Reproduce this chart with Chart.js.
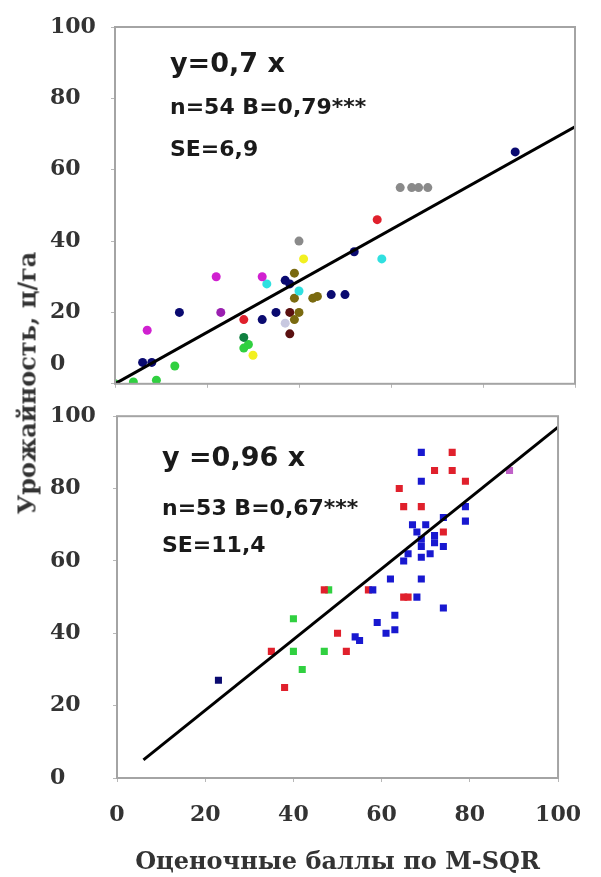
<!DOCTYPE html>
<html>
<head>
<meta charset="utf-8">
<script src="https://cdn.jsdelivr.net/npm/chart.js@4.4.1/dist/chart.umd.min.js"></script>
<style>
body{margin:0;background:#fff;width:601px;height:877px;overflow:hidden;position:relative;}
canvas{position:absolute;left:0;}
#ytitle{position:absolute;left:27px;top:383px;transform:translate(-50%,-50%) rotate(-90deg);
	font:bold 24px "DejaVu Serif";color:#333;white-space:nowrap;}
</style>
</head>
<body>
<canvas id="top_chart" width="601" height="400" style="top:0"></canvas>
<canvas id="bottom_chart" width="601" height="477" style="top:400px"></canvas>
<div id="ytitle">Урожайность, ц/га</div>
<script>
// upper panel
const topX = [40, 62, 64.5, 66, 68, 41, 30, 22, 32, 7, 23, 33, 40, 58,
	37, 47, 50, 14, 32, 35, 6, 8, 52, 87, 38,
	39, 39, 43, 44, 40, 39, 28, 57, 38, 38, 28,
	28, 13, 9, 4, 0, 29, 37];
const topY = [40, 55, 55, 55, 55, 35, 8, 30, 30, 15, 20, 28, 26, 35,
	29, 25, 25, 20, 18, 20, 6, 6, 37, 65, 28,
	31, 24, 24, 24.5, 20, 18, 18, 46, 20, 14, 13,
	10, 5, 1, 0.5, 0, 11, 17];
const topGroup = ['grey', 'grey', 'grey', 'grey', 'grey', 'yellow', 'yellow', 'magenta', 'magenta', 'magenta', 'purple', 'cyan', 'cyan', 'cyan',
	'navy', 'navy', 'navy', 'navy', 'navy', 'navy', 'navy', 'navy', 'navy', 'navy', 'navy',
	'olive', 'olive', 'olive', 'olive', 'olive', 'olive', 'red', 'red', 'brown', 'brown', 'darkgreen',
	'green', 'green', 'green', 'green', 'green', 'green', 'lavender'];
const topLineX = [0, 100];
const topLineY = [0, 72];

// lower panel
const botX = [69, 69, 79, 79, 74, 67, 70, 68, 72, 72, 69, 69, 74, 66, 71, 69, 65, 62, 69, 58, 68, 74, 63, 59, 63, 61, 54, 55,
	76, 72, 76, 79, 64, 65, 69, 74, 57, 47, 65, 66, 50, 52, 35, 38,
	48, 40, 40, 47, 42,
	89, 23];
const botY = [90, 82, 75, 71, 72, 70, 70, 68, 67, 65, 66, 64, 64, 62, 62, 61, 60, 55, 55, 52, 50, 47, 45, 43, 41, 40, 39, 38,
	90, 85, 85, 82, 80, 75, 75, 68, 52, 52, 50, 50, 40, 35, 35, 25,
	52, 44, 35, 35, 30,
	85, 27];
const botGroup = ['blue', 'blue', 'blue', 'blue', 'blue', 'blue', 'blue', 'blue', 'blue', 'blue', 'blue', 'blue', 'blue', 'blue', 'blue', 'blue', 'blue', 'blue', 'blue', 'blue', 'blue', 'blue', 'blue', 'blue', 'blue', 'blue', 'blue', 'blue',
	'red', 'red', 'red', 'red', 'red', 'red', 'red', 'red', 'red', 'red', 'red', 'red', 'red', 'red', 'red', 'red',
	'green', 'green', 'green', 'green', 'green',
	'magenta', 'navy'];
const botLineX = [6, 100];
const botLineY = [5, 97];

const xTicks = [0, 20, 40, 60, 80, 100];
const yTicks = [0, 20, 40, 60, 80, 100];

const colors = {
	grey: '#8a8a8a', yellow: '#f2f020', magenta: '#d020d0', purple: '#9a20b0', cyan: '#30e0e0',
	navy: '#0a0a70', olive: '#7a6a10', red: '#e0202c', brown: '#5a1010', darkgreen: '#108040',
	green: '#30d040', lavender: '#c8c8e0', blue: '#1818d0'
};

function buildDatasets(xs, ys, groups, lx, ly, style, radius){
	let sets = [];
	let names = [];
	for(let i = 0; i < groups.length; i++){
		if(names.indexOf(groups[i]) < 0) names.push(groups[i]);
	}
	for(let n = 0; n < names.length; n++){
		let pts = [];
		for(let i = 0; i < xs.length; i++){
			if(groups[i] == names[n]) pts.push({x: xs[i], y: ys[i]});
		}
		let c = colors[names[n]];
		if(names[n] == 'magenta' && style == 'rect') c = '#c060c8';
		sets.push({data: pts, backgroundColor: c, borderColor: c, borderWidth: 0,
			pointStyle: style, pointRadius: radius, order: 2});
	}
	sets.push({data: [{x: lx[0], y: ly[0]}, {x: lx[1], y: ly[1]}], showLine: true,
		borderColor: '#000', borderWidth: 3, pointRadius: 0, order: 1});
	return sets;
}

const tickFont = {family: 'DejaVu Serif', weight: 'bold', size: 22};

function panelPlugin(lines, drawZero){
	return {
		id: 'panel',
		afterDraw: function(chart){
			let ctx = chart.ctx;
			let a = chart.chartArea;
			ctx.save();
			ctx.strokeStyle = '#a4a4a4';
			ctx.lineWidth = 2;
			ctx.strokeRect(a.left, a.top, a.right - a.left, a.bottom - a.top);
			ctx.fillStyle = '#1a1a1a';
			ctx.textBaseline = 'middle';
			ctx.textAlign = 'left';
			for(let i = 0; i < lines.length; i++){
				ctx.font = 'bold ' + lines[i][3] + 'px "DejaVu Sans"';
				ctx.fillText(lines[i][0], a.left + lines[i][1], a.top + lines[i][2]);
			}
			if(drawZero){
				ctx.font = 'bold 22px "DejaVu Serif"';
				ctx.fillStyle = '#333';
				ctx.fillText('0', 50, chart.scales.y.getPixelForValue(0) - 20);
			}
			ctx.restore();
		}
	};
}

function makeChart(id, sets, opts){
	let ctx = document.getElementById(id).getContext('2d');
	return new Chart(ctx, {
		type: 'scatter',
		data: {datasets: sets},
		options: {
			responsive: false,
			animation: false,
			devicePixelRatio: 1,
			layout: {padding: {top: opts.top, right: opts.right, left: 50, bottom: 0}},
			plugins: {legend: {display: false}, tooltip: {enabled: false}},
			scales: {
				x: {
					type: 'linear', min: 0, max: 100,
					afterBuildTicks: function(s){ s.ticks = xTicks.map(function(v){ return {value: v}; }); },
					ticks: {display: opts.xLabels, font: tickFont, color: '#333', padding: 20, maxRotation: 0},
					grid: {drawOnChartArea: false, tickLength: 4, color: '#b8b8b8'},
					border: {display: false},
					title: {display: opts.xLabels, text: 'Оценочные баллы по M-SQR',
						font: {family: 'DejaVu Serif', weight: 'bold', size: 24}, color: '#333', padding: {top: 0, bottom: 0}},
					afterFit: function(s){ s.height = opts.xHeight; }
				},
				y: {
					min: 0, max: 100,
					afterBuildTicks: function(s){ s.ticks = yTicks.map(function(v){ return {value: v}; }); },
					ticks: {font: tickFont, color: '#333', crossAlign: 'far',
						callback: function(v){ return (opts.hideZero && v == 0) ? '' : v; }},
					grid: {drawOnChartArea: false, tickLength: 4, color: '#b8b8b8'},
					border: {display: false},
					afterFit: function(s){ s.width = opts.yWidth; }
				}
			}
		},
		plugins: [panelPlugin(opts.lines, opts.hideZero)]
	});
}

makeChart('top_chart', buildDatasets(topX, topY, topGroup, topLineX, topLineY, 'circle', 4.5), {
	top: 27, right: 26, xHeight: 15, yWidth: 65, xLabels: false, hideZero: true,
	lines: [['y=0,7 x', 55, 38, 27], ['n=54 B=0,79***', 55, 81, 22], ['SE=6,9', 55, 123, 22]]
});

makeChart('bottom_chart', buildDatasets(botX, botY, botGroup, botLineX, botLineY, 'rect', 5), {
	top: 12, right: 19, xHeight: 99, yWidth: 67, xLabels: true, hideZero: false,
	lines: [['y =0,96 x', 45, 43, 27], ['n=53 B=0,67***', 45, 93, 22], ['SE=11,4', 45, 130, 22]]
});
</script>
</body>
</html>
